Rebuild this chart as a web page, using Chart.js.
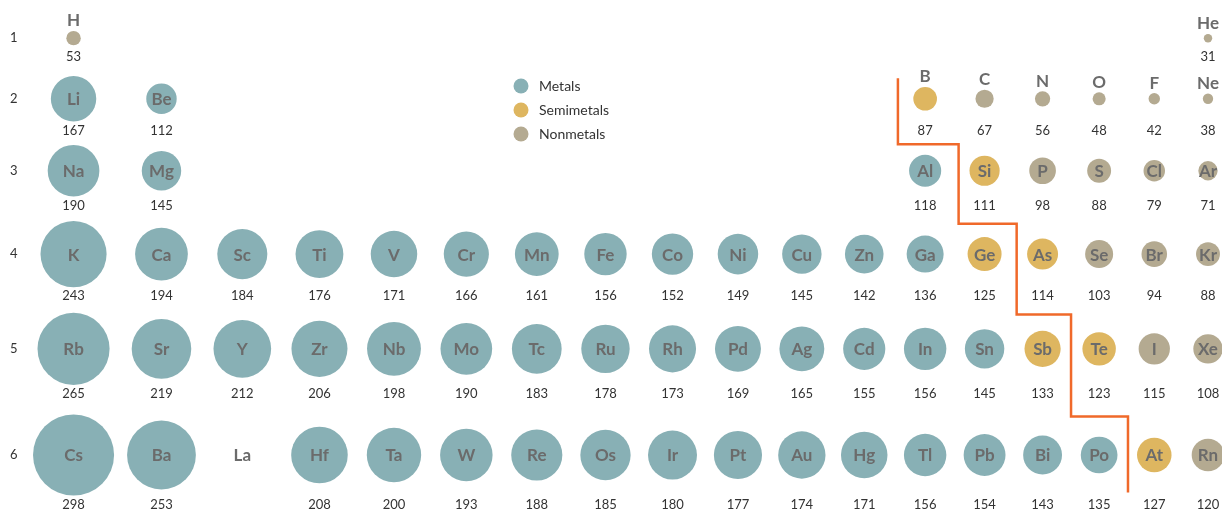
<!DOCTYPE html>
<html>
<head>
<meta charset="utf-8">
<script src="https://cdn.jsdelivr.net/npm/chart.js@4.4.1/dist/chart.umd.min.js"></script>
<style>html,body{margin:0;background:#fff}</style>
</head>
<body>
<canvas id="chart" width="1222" height="510"></canvas>
<script>
// Atomic radius (pm) by element; kinds: M = metal, S = semimetal, N = nonmetal
const symbols = ['H','He',
  'Li','Be','B','C','N','O','F','Ne',
  'Na','Mg','Al','Si','P','S','Cl','Ar',
  'K','Ca','Sc','Ti','V','Cr','Mn','Fe','Co','Ni','Cu','Zn','Ga','Ge','As','Se','Br','Kr',
  'Rb','Sr','Y','Zr','Nb','Mo','Tc','Ru','Rh','Pd','Ag','Cd','In','Sn','Sb','Te','I','Xe',
  'Cs','Ba','La','Hf','Ta','W','Re','Os','Ir','Pt','Au','Hg','Tl','Pb','Bi','Po','At','Rn'];
const groups = [1,18,
  1,2,13,14,15,16,17,18,
  1,2,13,14,15,16,17,18,
  1,2,3,4,5,6,7,8,9,10,11,12,13,14,15,16,17,18,
  1,2,3,4,5,6,7,8,9,10,11,12,13,14,15,16,17,18,
  1,2,3,4,5,6,7,8,9,10,11,12,13,14,15,16,17,18];
const periods = [1,1,
  2,2,2,2,2,2,2,2,
  3,3,3,3,3,3,3,3,
  4,4,4,4,4,4,4,4,4,4,4,4,4,4,4,4,4,4,
  5,5,5,5,5,5,5,5,5,5,5,5,5,5,5,5,5,5,
  6,6,6,6,6,6,6,6,6,6,6,6,6,6,6,6,6,6];
const radii = [53,31,
  167,112,87,67,56,48,42,38,
  190,145,118,111,98,88,79,71,
  243,194,184,176,171,166,161,156,152,149,145,142,136,125,114,103,94,88,
  265,219,212,206,198,190,183,178,173,169,165,155,156,145,133,123,115,108,
  298,253,null,208,200,193,188,185,180,177,174,171,156,154,143,135,127,120];
const kinds = ['N','N',
  'M','M','S','N','N','N','N','N',
  'M','M','M','S','N','N','N','N',
  'M','M','M','M','M','M','M','M','M','M','M','M','M','S','S','N','N','N',
  'M','M','M','M','M','M','M','M','M','M','M','M','M','M','S','S','N','N',
  'M','M','M','M','M','M','M','M','M','M','M','M','M','M','M','M','S','N'];
const kindKeys = ['M','S','N'];
const kindNames = ['Metals','Semimetals','Nonmetals'];
const kindColors = ['#88b0b5','#deb660','#b4aa91'];
const periodTicks = [1,2,3,4,5,6];
// metal / nonmetal dividing staircase
const borderGroups = [12.55,13.56,14.55,15.5,16.52,16.52];
const borderPeriods = [1.68,2.65,3.65,4.65,5.65,6.33];

const PX_PER_PM = 0.136;
const SYMBOL_GRAY = '#6b6b6b';
const TEXT = '#333333';

// linear scale with a slight bend: columns get narrower to the right, rows taller downwards
class WarpScale extends Chart.LinearScale {
  static id = 'warp';
  static defaults = Chart.LinearScale.defaults;
  warp(v) {
    const o = this.options;
    return v + (o.bend || 0) * v * v + (o.logBend || 0) * Math.log(v);
  }
  getPixelForValue(value) {
    if (value === null || value === undefined || isNaN(value)) return NaN;
    const a = this.warp(this.min), b = this.warp(this.max);
    return this.getPixelForDecimal((this.warp(value) - a) / (b - a));
  }
  getValueForPixel(pixel) {
    const a = this.warp(this.min), b = this.warp(this.max);
    const t = a + this.getDecimalForPixel(pixel) * (b - a);
    let lo = this.min, hi = this.max;
    for (let i = 0; i < 40; i++) {
      const mid = (lo + hi) / 2;
      if (this.warp(mid) < t) lo = mid; else hi = mid;
    }
    return (lo + hi) / 2;
  }
}
Chart.register(WarpScale);

const rowMaxR = {};
periods.forEach((p, i) => { rowMaxR[p] = Math.max(rowMaxR[p] || 0, (radii[i] || 0) * PX_PER_PM); });

const bubbleSets = kindKeys.map((k, ki) => ({
  label: kindNames[ki],
  backgroundColor: kindColors[ki],
  borderWidth: 0,
  hoverBorderWidth: 0,
  data: symbols.map((s, i) => ({ x: groups[i], y: periods[i], r: (radii[i] || 0) * PX_PER_PM, pm: radii[i], sym: s, kind: kinds[i] }))
    .filter(d => d.kind === k)
}));

const elementLabels = {
  id: 'elementLabels',
  afterDatasetsDraw(chart) {
    const ctx = chart.ctx;
    ctx.save();
    ctx.textAlign = 'center';
    ctx.textBaseline = 'middle';
    chart.data.datasets.forEach((ds, di) => {
      if (ds.type === 'line') return;
      chart.getDatasetMeta(di).data.forEach((pt, i) => {
        const d = ds.data[i];
        const above = d.y <= 2 && d.kind !== 'M';
        ctx.font = 'bold 17px Lato';
        ctx.fillStyle = SYMBOL_GRAY;
        ctx.fillText(d.sym, pt.x, above ? pt.y - d.r - 10 : pt.y + 1);
        if (d.pm != null) {
          ctx.font = '13px Lato';
          ctx.fillStyle = TEXT;
          ctx.fillText(String(d.pm), pt.x, pt.y + Math.max(rowMaxR[d.y], 10) + 9);
        }
      });
    });
    ctx.restore();
  }
};

const kindLegend = {
  id: 'kindLegend',
  afterDraw(chart) {
    const ctx = chart.ctx;
    ctx.save();
    ctx.textBaseline = 'middle';
    ctx.font = '14px Lato';
    kindNames.forEach((name, i) => {
      const y = 86 + i * 24;
      ctx.fillStyle = kindColors[i];
      ctx.beginPath();
      ctx.arc(521, y, 7.5, 0, Math.PI * 2);
      ctx.fill();
      ctx.fillStyle = TEXT;
      ctx.fillText(name, 539, y);
    });
    ctx.restore();
  }
};

new Chart(document.getElementById('chart'), {
  type: 'bubble',
  data: {
    datasets: [...bubbleSets, {
      type: 'line',
      label: 'divider',
      data: borderGroups.map((x, i) => ({ x, y: borderPeriods[i] })),
      borderColor: '#f0692a',
      borderWidth: 2.5,
      pointRadius: 0,
      stepped: 'after',
      fill: false
    }]
  },
  options: {
    responsive: false,
    animation: false,
    events: [],
    layout: { padding: 0, autoPadding: false },
    plugins: { legend: { display: false }, tooltip: { enabled: false } },
    scales: {
      x: { type: 'warp', bend: -0.008832, logBend: 0.2622, min: 0.3225, max: 18.265, display: false },
      y: {
        type: 'warp', bend: 0.1308, min: 0.246, max: 6.48, reverse: true,
        afterFit(s) {
          s.width = 0;
          s.paddingTop = s.paddingBottom = s.paddingLeft = s.paddingRight = 0;
        },
        afterBuildTicks(s) { s.ticks = periodTicks.map(v => ({ value: v })); },
        grid: { display: false },
        border: { display: false },
        ticks: { mirror: true, padding: 10, color: TEXT, font: { family: 'Lato', size: 13 } }
      }
    }
  },
  plugins: [elementLabels, kindLegend]
});
</script>
</body>
</html>
